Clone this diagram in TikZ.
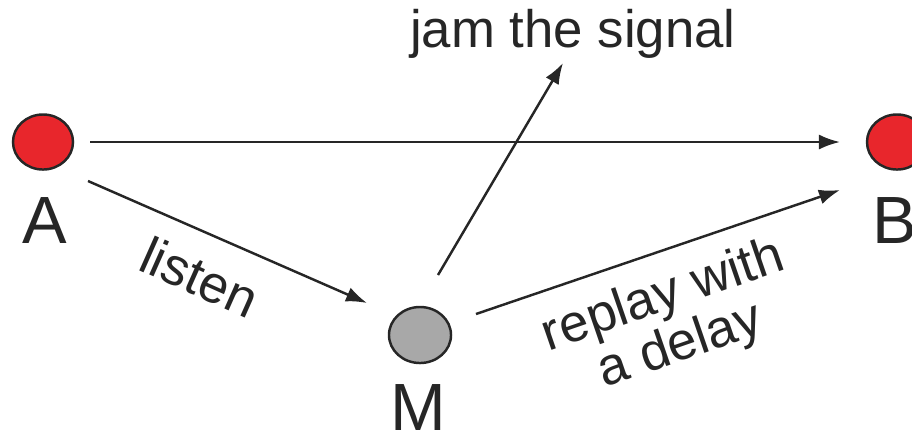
\documentclass[tikz,border=0pt]{standalone}
\usepackage{fontspec}
\setmainfont{Liberation Sans}
\usepackage{tikz}
\usetikzlibrary{arrows.meta, shapes.geometric}

\definecolor{nodered}{RGB}{232,38,44}
\definecolor{nodegrey}{RGB}{168,168,168}
\definecolor{inkgrey}{RGB}{38,38,38}

\begin{document}
\begin{tikzpicture}[
  x=0.01cm, y=-0.01cm,
  >={Latex[length=2.1mm, width=1.5mm]},
  every node/.style={text=inkgrey}
]
\tikzset{
  party/.style  ={ellipse, draw=inkgrey, line width=0.7pt, fill=nodered,
                  minimum width=6mm, minimum height=5.5mm, inner sep=0pt},
  spy/.style    ={party, fill=nodegrey, minimum width=6.2mm,
                  minimum height=5.6mm},
  letter/.style ={font=\fontsize{19}{19}\selectfont, anchor=base,
                  inner sep=0pt},
  lab/.style    ={font=\fontsize{15}{13.2}\selectfont, inner sep=0pt,
                  align=center},
  arr/.style    ={->, draw=inkgrey, line width=0.7pt}
}
\useasboundingbox (0,0) rectangle (912,435);

%% ----- Parties -----
\node[party] (A) at (43,142)  {};
\node[party] (B) at (897,142) {};
\node[spy]   (M) at (420,335) {};
\node[letter] (la) at (45,243)  {A};
\node[letter] (lb) at (895,243) {B};
\node[letter] (lm) at (418,430) {M};

%% ----- Labels -----
\node[lab, anchor=base] (jam) at (573,47) {jam the signal};
\node[lab, rotate=-24] (listen) at (200,277) {listen};
\node[lab, rotate=19]  (replay) at (672,322) {replay with\\a delay};

%% ----- Arrows -----
\draw[arr] ([shift={(47,0)}]A.center)  -- ([shift={(-57,0)}]B.center);
\draw[arr] ([shift={(45,39)}]A.center) -- ([shift={(-53,-32)}]M.center);
\draw[arr] ([shift={(18,-60)}]M.center) -- ([shift={(-10,16)}]jam.base);
\draw[arr] ([shift={(56,-21)}]M.center) -- ([shift={(-57,48)}]B.center);

\end{tikzpicture}
\end{document}
